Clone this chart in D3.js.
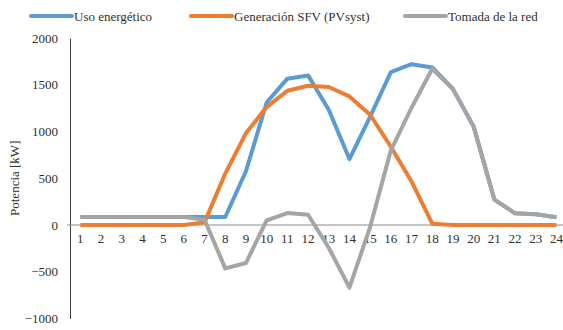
<!DOCTYPE html>
<html>
<head>
<meta charset="utf-8">
<script src="https://cdn.jsdelivr.net/npm/d3@7"></script>
<style>
  html, body { margin: 0; padding: 0; background: #fff; }
  svg { display: block; }
  svg text { font-family: "Liberation Serif", "Tinos", "Times New Roman", "DejaVu Serif", serif !important; fill: #303030; }
</style>
</head>
<body>
<svg id="chart" width="563" height="330"></svg>
<script>
const hours = [1,2,3,4,5,6,7,8,9,10,11,12,13,14,15,16,17,18,19,20,21,22,23,24];
const usoEnergetico = [85,85,85,85,85,85,85,86,575,1310,1565,1600,1233,705,1160,1635,1720,1685,1455,1052,272,125,114,84];
const generacionSFV = [0,0,0,0,0,0,28,550,982,1261,1436,1490,1476,1375,1179,837,466,14,0,0,0,0,0,0];
const tomadaRed = [85,85,85,85,85,85,57,-464,-407,49,128,110,-243,-670,-19,798,1254,1671,1453,1052,272,125,114,84];
const yTicks = [-1000,-500,0,500,1000,1500,2000];
const seriesNames = ["Uso energético", "Generación SFV (PVsyst)", "Tomada de la red"];
const seriesColors = ["#5B9BD5", "#ED7D31", "#A5A5A5"];

const series = [usoEnergetico, generacionSFV, tomadaRed].map((vals, i) => ({
  name: seriesNames[i], color: seriesColors[i], values: vals
}));

const FONT = "'Liberation Serif', 'Times New Roman', serif";
const svg = d3.select("#chart");
const left = 70, bandW = 20.7;
const x = d3.scaleBand().domain(hours).range([left, left + bandW * hours.length]);
const y = d3.scaleLinear().domain([-1000, 2000]).range([318.5, 38]);

// y axis
const yAxis = d3.axisLeft(y).tickValues(yTicks).tickSize(0).tickPadding(12).tickFormat(d3.format("d"));
const gy = svg.append("g").attr("transform", `translate(${left},0)`).call(yAxis)
  .attr("font-family", FONT).attr("font-size", 13);
gy.select(".domain").attr("stroke", "#404040").attr("stroke-width", 1);
gy.selectAll("text").attr("fill", "#303030");

// zero line (category axis)
const xAxis = d3.axisBottom(x).tickSize(0).tickPadding(9);
const gx = svg.append("g").attr("transform", `translate(0,${y(0)})`).call(xAxis)
  .attr("font-family", FONT).attr("font-size", 13);
gx.select(".domain").remove();
gx.selectAll("text").attr("fill", "#303030");
svg.append("line")
  .attr("x1", left - 3).attr("x2", 563)
  .attr("y1", y(0)).attr("y2", y(0))
  .attr("stroke", "#8c8c8c").attr("stroke-width", 1);

// y axis title
svg.append("text")
  .attr("transform", `translate(19,${(y(-1000) + y(2000)) / 2}) rotate(-90)`)
  .attr("text-anchor", "middle")
  .attr("font-family", FONT).attr("font-size", 13)
  .text("Potencia [kW]");

// lines
const line = d3.line()
  .x((d, i) => x(hours[i]) + x.bandwidth() / 2)
  .y(d => y(d));
svg.append("g").selectAll("path").data(series).join("path")
  .attr("d", d => line(d.values))
  .attr("fill", "none")
  .attr("stroke", d => d.color)
  .attr("stroke-width", 4)
  .attr("stroke-linejoin", "round");

// legend
const legendX = [31, 191, 405];
const lg = svg.append("g").selectAll("g").data(series).join("g")
  .attr("transform", (d, i) => `translate(${legendX[i]},16)`);
lg.append("line").attr("x1", 0).attr("x2", 41).attr("y1", 0).attr("y2", 0)
  .attr("stroke", d => d.color).attr("stroke-width", 4).attr("stroke-linecap", "round");
lg.append("text").attr("x", 43).attr("y", 4.5)
  .attr("font-family", FONT).attr("font-size", 13)
  .text(d => d.name);
</script>
</body>
</html>
